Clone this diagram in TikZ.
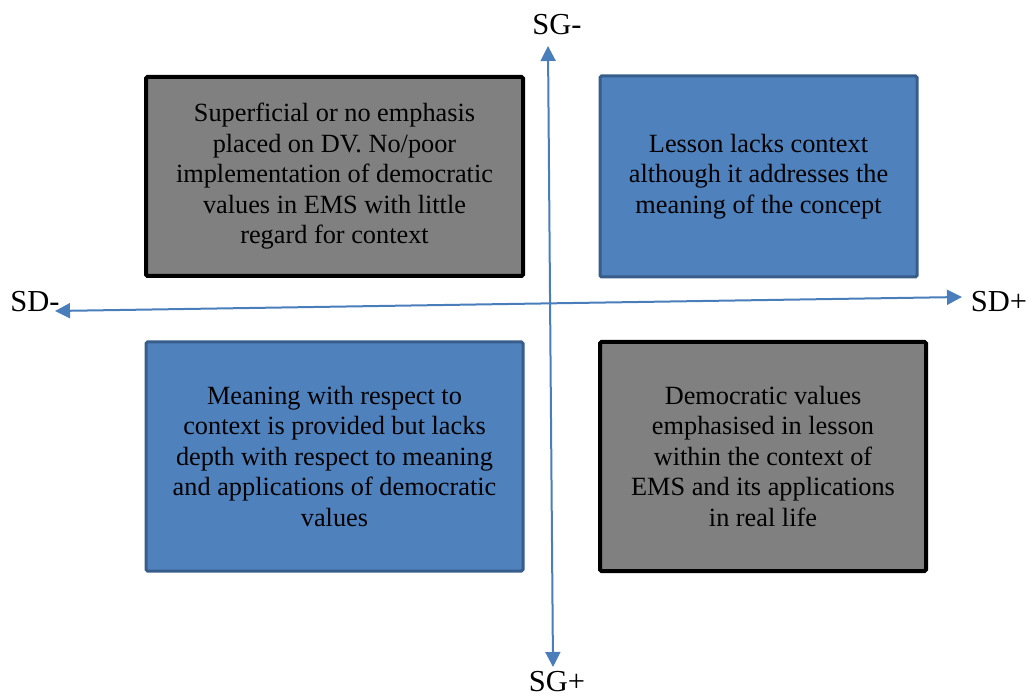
\documentclass[tikz,border=0pt]{standalone}
\usepackage{fontspec}
\setmainfont{Liberation Serif}
\usepackage{tikz}
\usetikzlibrary{%
  arrows.meta,
  positioning
}
\definecolor{quadblue}{HTML}{4F81BD}
\definecolor{quadblueline}{HTML}{385D8A}
\definecolor{axisblue}{HTML}{4A7EBB}
\tikzset{
  quad/.style 2 args={draw=#1, fill=#2, rounded corners=1.5pt,
                      align=center, inner sep=0pt},
  gray quad/.style={quad={black}{gray}, line width=4pt},
  blue quad/.style={quad={quadblueline}{quadblue}, line width=3pt},
  axis/.style={draw=axisblue, line width=2pt,
               {Triangle[length=15pt,width=15pt]}-{Triangle[length=15pt,width=15pt]}},
  axis label/.style={font=\fontsize{30.5}{35}\selectfont, inner sep=0pt}
}

\begin{document}
\begin{tikzpicture}[x=1pt,y=1pt,
  every node/.append style={font=\fontsize{26.3}{30.5}\selectfont}]
\useasboundingbox (0,0) rectangle (1031,-700);

% the four quadrants
\node[gray quad, minimum width=377pt, minimum height=199pt]
      (negneg) at (334.5,-176.5)
      {Superficial or no emphasis\\ placed on DV. No/poor\\
       implementation of democratic\\ values in EMS with little\\
       regard for context};
\node[blue quad, minimum width=317pt, minimum height=201pt]
      (negpos) at (758.5,-176.5)
      {Lesson lacks context\\ although it addresses the\\
       meaning of the concept};
\node[blue quad, minimum width=377pt, minimum height=229pt]
      (posneg) at (334.5,-456.5)
      {Meaning with respect to\\ context is provided but lacks\\
       depth with respect to meaning\\ and applications of democratic\\
       values};
\node[gray quad, minimum width=326pt, minimum height=229pt]
      (pospos) at (763,-456.5)
      {Democratic values\\ emphasised in lesson\\
       within the context of\\ EMS and its applications\\
       in real life};

% the axes
\coordinate (sgtop) at (548,-46);
\coordinate (sgbot) at (553,-667);
\coordinate (sdleft) at (55,-311);
\coordinate (sdright) at (962,-297);
\draw[axis] (sgtop) -- (sgbot);
\draw[axis] (sdleft) -- (sdright);

\node[axis label] (sgminus) at (557,-25) {SG-};
\node[axis label] (sgplus) at (557,-682) {SG+};
\node[axis label] (sdminus) at (35,-302) {SD-};
\node[axis label] (sdplus) at (999,-302) {SD+};
\end{tikzpicture}
\end{document}
